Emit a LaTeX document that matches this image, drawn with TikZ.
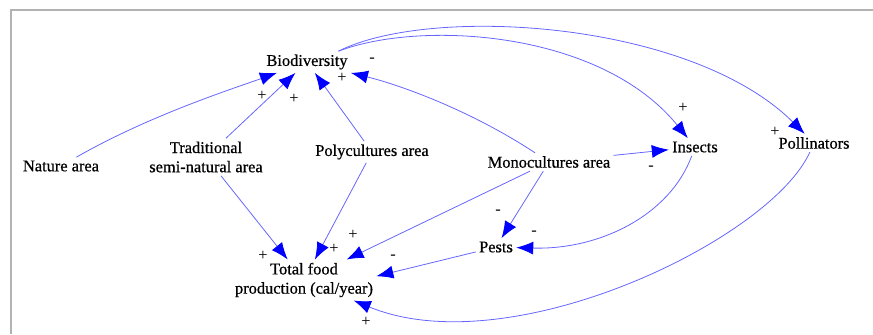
\documentclass[tikz,border=0pt]{standalone}
\usepackage{fontspec}
\setmainfont{Liberation Serif}
\newfontfamily\varfont[FakeBold=0.6]{Liberation Serif}
\usetikzlibrary{arrows.meta}

\begin{document}
\begin{tikzpicture}[x=.5pt,y=-.5pt,
  var/.style={inner sep=1.5pt,align=center,font=\varfont\fontsize{8.2}{9.6}\selectfont},
  sgn/.style={inner sep=0pt,font=\fontsize{8.2}{9.6}\selectfont},
  lnk/.style={blue!60,line width=.4pt,-{Latex[length=8.5pt,width=6.5pt,color=blue]}}]
\useasboundingbox (0,0) rectangle (873,334);
\draw[gray!60,line width=.8pt] (11,334)--(11,10)--(873,10);
% variables
\node[var] (bio) at (307,62) {Biodiversity};
\node[var] (nature) at (61,166) {Nature area};
\node[var] (trad) at (206,157) {Traditional\\semi-natural area};
\node[var] (poly) at (372,152) {Polycultures area};
\node[var] (mono) at (549,162) {Monocultures area};
\node[var] (insects) at (695,147) {Insects};
\node[var] (poll) at (814,143) {Pollinators};
\node[var] (pests) at (496,247) {Pests};
\node[var] (food) at (304,280) {Total food\\production (cal/year)};
% links
\draw[lnk] (nature) .. controls (150,115) and (235,88) .. (bio);
\draw[lnk] (trad)--(bio);
\draw[lnk] (poly)--(bio);
\draw[lnk] (mono) .. controls (470,110) and (400,85) .. (bio);
\draw[lnk] (bio.19) .. controls (420,20) and (600,30) .. (insects);
\draw[lnk] (bio.19) .. controls (430,5) and (690,20) .. (poll);
\draw[lnk] (mono)--(insects);
\draw[lnk] (insects) .. controls (670,215) and (600,250) .. (pests);
\draw[lnk] (mono)--(pests);
\draw[lnk] (pests)--(food.3);
\draw[lnk] (mono)--(food);
\draw[lnk] (poly)--(food);
\draw[lnk] (trad)--(food);
\draw[lnk] (poll) .. controls (770,240) and (510,365) .. (food);
% polarities
\node[sgn] (s1) at (262,96) {+};
\node[sgn] (s2) at (294,99) {+};
\node[sgn] (s3) at (342,78) {+};
\node[sgn] (s4) at (372,60) {-};
\node[sgn] (s5) at (683,108) {+};
\node[sgn] (s6) at (775,132) {+};
\node[sgn] (s7) at (651,168) {-};
\node[sgn] (s8) at (498,212) {-};
\node[sgn] (s9) at (534,233) {-};
\node[sgn] (s10) at (393,257) {-};
\node[sgn] (s11) at (353,235) {+};
\node[sgn] (s12) at (334,249) {+};
\node[sgn] (s13) at (263,256) {+};
\node[sgn] (s14) at (366,322) {+};
\end{tikzpicture}
\end{document}
